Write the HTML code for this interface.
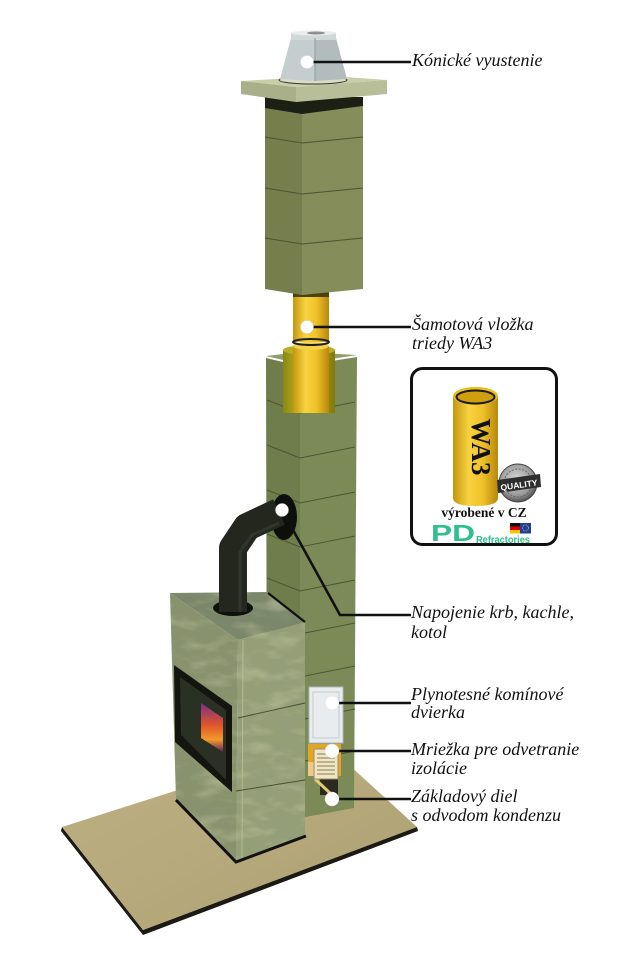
<!DOCTYPE html>
<html><head><meta charset="utf-8"><style>
html,body{margin:0;padding:0;background:#fff;}
svg{display:block;}
</style></head><body>
<svg width="625" height="960" viewBox="0 0 625 960" xmlns="http://www.w3.org/2000/svg">
<defs>
 <linearGradient id="yel" x1="0" y1="0" x2="1" y2="0">
  <stop offset="0" stop-color="#c5960f"/><stop offset="0.35" stop-color="#f7d340"/><stop offset="0.65" stop-color="#efc22a"/><stop offset="1" stop-color="#b7880b"/>
 </linearGradient>
 <linearGradient id="oli" x1="0" y1="0" x2="1" y2="0">
  <stop offset="0" stop-color="#8c8810"/><stop offset="0.4" stop-color="#c2ba26"/><stop offset="1" stop-color="#807a0c"/>
 </linearGradient>
 <linearGradient id="floor" x1="0" y1="0" x2="1" y2="1">
  <stop offset="0" stop-color="#bcb083"/><stop offset="0.5" stop-color="#b6aa7d"/><stop offset="1" stop-color="#ab9e70"/>
 </linearGradient>
 <linearGradient id="fire" x1="0" y1="0" x2="0" y2="1">
  <stop offset="0" stop-color="#7a2f8a"/><stop offset="0.45" stop-color="#e0542a"/><stop offset="0.75" stop-color="#f39a2a"/><stop offset="1" stop-color="#5a2060"/>
 </linearGradient>
 <radialGradient id="seal" cx="0.45" cy="0.4" r="0.6">
  <stop offset="0" stop-color="#d8d8d8"/><stop offset="0.7" stop-color="#9a9a9a"/><stop offset="1" stop-color="#555"/>
 </radialGradient>
 <filter id="marble" x="0" y="0" width="1" height="1">
  <feTurbulence type="fractalNoise" baseFrequency="0.03 0.07" numOctaves="3" seed="7" result="n"/>
  <feColorMatrix in="n" type="matrix" values="0 0 0 0 0.76  0 0 0 0 0.78  0 0 0 0 0.52  1.8 0 0 0 -0.85" result="l"/>
  <feColorMatrix in="n" type="matrix" values="0 0 0 0 0.3  0 0 0 0 0.35  0 0 0 0 0.26  0 -1.8 0 0 0.8" result="d"/>
  <feMerge result="m"><feMergeNode in="d"/><feMergeNode in="l"/></feMerge>
  <feComposite in="m" in2="SourceAlpha" operator="in"/>
 </filter>
</defs>

<!-- floor -->
<polygon points="62,827 143,930 417,827 418,831 143,935 61,831" fill="#1c1a12"/>
<polygon points="62,827 325,743 417,827 143,930" fill="url(#floor)"/>

<!-- lower chimney column -->
<polygon points="266,358 300,366 300,818 267,806" fill="#6f7d4c"/>
<polygon points="300,366 357,357 354,808 300,818" fill="#7c8a58"/>
<g stroke="#4c5634" stroke-width="1" fill="none">
 <polyline points="267,400 300,413 355,402"/>
 <polyline points="267,445 300,458 355,447"/>
 <polyline points="267,490 300,503 355,492"/>
 <polyline points="267,534 300,547 355,536"/>
 <polyline points="267,578 300,591 355,580"/>
 <polyline points="267,621 300,634 355,623"/>
 <polyline points="267,664 300,677 355,666"/>
 <polyline points="267,707 300,720 355,709"/>
 <polyline points="267,749 300,762 355,751"/>
</g>
<polygon points="266,356 300,352 357,355 300,364" fill="#909d6c"/>

<!-- liner in cut -->
<rect x="283" y="350" width="52" height="63" fill="url(#oli)"/>
<ellipse cx="309" cy="350" rx="26" ry="5" fill="#b9af24"/>
<rect x="293" y="346" width="36" height="67" fill="url(#yel)"/>
<ellipse cx="311" cy="346" rx="18" ry="4" fill="#f4d24a"/>

<!-- upper yellow pipe -->
<rect x="293" y="292" width="36" height="50" fill="url(#yel)"/>
<rect x="293" y="292" width="36" height="5" fill="#4a4010"/>
<ellipse cx="311" cy="342" rx="18" ry="3" fill="none" stroke="#222" stroke-width="2"/>

<!-- upper column -->
<polygon points="265,106 302,113 302,295 265,289" fill="#767e4e"/>
<polygon points="302,113 363,106 363,289 302,295" fill="#858d5b"/>
<g stroke="#4e5434" stroke-width="1" fill="none">
 <polyline points="265,137 302,143 363,137"/>
 <polyline points="265,188 302,194 363,188"/>
 <polyline points="265,238 302,244 363,238"/>
</g>
<polygon points="265,97 363,97 363,106 302,114 265,108" fill="#1c1f14"/>

<!-- slab -->
<polygon points="241,81 330,76 387,80 296,87" fill="#c9cda8"/>
<polygon points="241,81 296,87 296,102 241,94" fill="#a9b089"/>
<polygon points="296,87 387,80 387,94 296,102" fill="#b8be97"/>

<!-- cone -->
<ellipse cx="313" cy="80" rx="34" ry="4" fill="#d9ddc2" stroke="#333" stroke-width="1"/>
<polygon points="291,38 315,38 315,81 280,79" fill="#c4cece"/>
<polygon points="315,38 336,38 347,79 315,81" fill="#b2bcbd"/>
<rect x="291" y="33" width="45" height="7" fill="#d2d8d8"/>
<ellipse cx="313.5" cy="33" rx="22.5" ry="2.5" fill="#e9eded"/>
<ellipse cx="316" cy="33" rx="9" ry="1.5" fill="#8a9090"/>
<line x1="315" y1="38" x2="315" y2="81" stroke="#8f9999" stroke-width="1"/>

<!-- fireplace -->
<polygon points="170,593 268,592 305,622 238,640" fill="#7b876a"/>
<polygon points="170,593 238,640 236,861 176,800" fill="#88926d"/>
<polygon points="238,640 305,622 305,836 236,861" fill="#949e77"/>
<g filter="url(#marble)" opacity="0.45">
 <polygon points="170,593 268,592 305,622 238,640" fill="#000"/>
 <polygon points="170,593 238,640 236,861 176,800" fill="#000"/>
 <polygon points="238,640 305,622 305,836 236,861" fill="#000"/>
</g>
<line x1="243" y1="640" x2="242" y2="859" stroke="#b5bd93" stroke-width="1"/>
<line x1="238" y1="718" x2="305" y2="703" stroke="#4a5238" stroke-width="1"/>
<line x1="236" y1="791" x2="305" y2="780" stroke="#4a5238" stroke-width="1"/>
<line x1="268" y1="593" x2="305" y2="622" stroke="#111" stroke-width="2.2"/>
<polyline points="176,800 236,862 306,836" fill="none" stroke="#111" stroke-width="3"/>

<!-- fire door -->
<polygon points="174,665 232,706 232,792 175,742" fill="#13150e"/>
<polygon points="180,677 226,710 226,780 181,735" fill="#2b3024"/>
<polygon points="201,703 223,718 223,752 201,738" fill="url(#fire)"/>

<!-- stove pipe -->
<ellipse cx="233" cy="608" rx="20" ry="8" fill="#0e100b"/>
<ellipse cx="284" cy="517" rx="13" ry="23" fill="#0d0f0a"/>
<path d="M233,612 L233,548 L247,527 L279,512" fill="none" stroke="#23271e" stroke-width="28" stroke-linejoin="round"/>
<path d="M240,612 L240,552 L252,535 L279,523" fill="none" stroke="#3a3f33" stroke-width="3" opacity="0.6"/>

<!-- door, grille -->
<rect x="309" y="687" width="34" height="56" fill="#e8ecee" stroke="#b0b8bc" stroke-width="1"/>
<rect x="313" y="692" width="26" height="46" fill="none" stroke="#c4cacd" stroke-width="1"/>
<rect x="308" y="744" width="33" height="32" fill="#e2a526"/>
<rect x="308" y="762" width="6" height="14" fill="#f0c887"/>
<rect x="320" y="779" width="18" height="16" fill="#2a2a20"/>
<line x1="315" y1="779" x2="331" y2="794" stroke="#e6c870" stroke-width="3"/>
<rect x="314" y="749" width="24" height="30" fill="#efe6c4" stroke="#9a8f6a" stroke-width="1"/>
<g stroke="#8a7f5a" stroke-width="1">
 <line x1="317" y1="754" x2="335" y2="754"/><line x1="317" y1="758" x2="335" y2="758"/>
 <line x1="317" y1="762" x2="335" y2="762"/><line x1="317" y1="766" x2="335" y2="766"/>
 <line x1="317" y1="770" x2="335" y2="770"/><line x1="317" y1="774" x2="335" y2="774"/>
</g>

<!-- connectors -->
<g stroke="#111" stroke-width="2.6" fill="none">
 <line x1="307" y1="62" x2="411" y2="62"/>
 <line x1="307" y1="327" x2="411" y2="327"/>
 <polyline points="282,510 340,615 411,615"/>
 <line x1="332" y1="703" x2="411" y2="703"/>
 <line x1="332" y1="751" x2="411" y2="751"/>
 <line x1="332" y1="799" x2="411" y2="799"/>
</g>
<g fill="#fff" stroke="#ddd" stroke-width="0.5">
 <circle cx="307" cy="62" r="6.5"/>
 <circle cx="307" cy="327" r="6.5"/>
 <circle cx="282" cy="510" r="6.5"/>
 <circle cx="332" cy="703" r="7"/>
 <circle cx="332" cy="751" r="7"/>
 <circle cx="332" cy="799" r="7"/>
</g>

<!-- labels -->
<g font-family="'Liberation Serif', serif" font-style="italic" font-size="18" fill="#111">
 <text x="412" y="66">Kónické vyustenie</text>
 <text x="412" y="330">Šamotová vložka</text>
 <text x="412" y="349">triedy WA3</text>
 <text x="411" y="618">Napojenie krb, kachle,</text>
 <text x="411" y="638">kotol</text>
 <text x="411" y="700">Plynotesné komínové</text>
 <text x="411" y="718">dvierka</text>
 <text x="411" y="755">Mriežka pre odvetranie</text>
 <text x="411" y="774">izolácie</text>
 <text x="411" y="802">Základový diel</text>
 <text x="411" y="821">s odvodom kondenzu</text>
</g>

<!-- info box -->
<rect x="411.5" y="368.5" width="145" height="176" rx="11" fill="#fff" stroke="#111" stroke-width="3"/>
<path d="M453,396 L453,498 Q453,506 475.5,506 Q498,506 498,498 L498,396 Z" fill="url(#yel)"/>
<ellipse cx="475.5" cy="396" rx="22.5" ry="9" fill="#e9bd1c"/>
<ellipse cx="475.5" cy="397" rx="19" ry="6.5" fill="#cf9f10" stroke="#1a1a1a" stroke-width="2"/>
<text transform="translate(472,447) rotate(90)" text-anchor="middle" font-family="'Liberation Serif', serif" font-weight="bold" font-size="27" fill="#111">WA3</text>
<circle cx="518" cy="483" r="19" fill="url(#seal)" stroke="#444" stroke-width="1"/>
<circle cx="518" cy="483" r="14" fill="none" stroke="#666" stroke-width="1" stroke-dasharray="2,1.5"/>
<polygon points="497,480 540,474 541,487 498,493" fill="#2e2e2e"/>
<text x="519" y="488" text-anchor="middle" transform="rotate(-8 519 485)" font-family="'Liberation Sans', sans-serif" font-weight="bold" font-size="8.5" fill="#fff">QUALITY</text>
<text x="484" y="517" text-anchor="middle" font-family="'Liberation Serif', serif" font-weight="bold" font-size="13.5" fill="#111">výrobené v CZ</text>
<text x="431" y="541" font-family="'Liberation Sans', sans-serif" font-weight="bold" font-size="23" fill="#2dbf8e" textLength="44" lengthAdjust="spacingAndGlyphs">PD</text>
<text x="476" y="543" font-family="'Liberation Sans', sans-serif" font-weight="bold" font-size="10" fill="#2dbf8e" textLength="54" lengthAdjust="spacingAndGlyphs">Refractories</text>
<rect x="510" y="523" width="10" height="3.5" fill="#111"/>
<rect x="510" y="526.5" width="10" height="3.5" fill="#d00"/>
<rect x="510" y="530" width="10" height="3.5" fill="#f5c400"/>
<rect x="520" y="523" width="11" height="10.5" fill="#1f3fa0"/>
<circle cx="525.5" cy="528" r="3" fill="none" stroke="#f5d000" stroke-width="0.8" stroke-dasharray="0.8,0.8"/>
</svg>
</body></html>
